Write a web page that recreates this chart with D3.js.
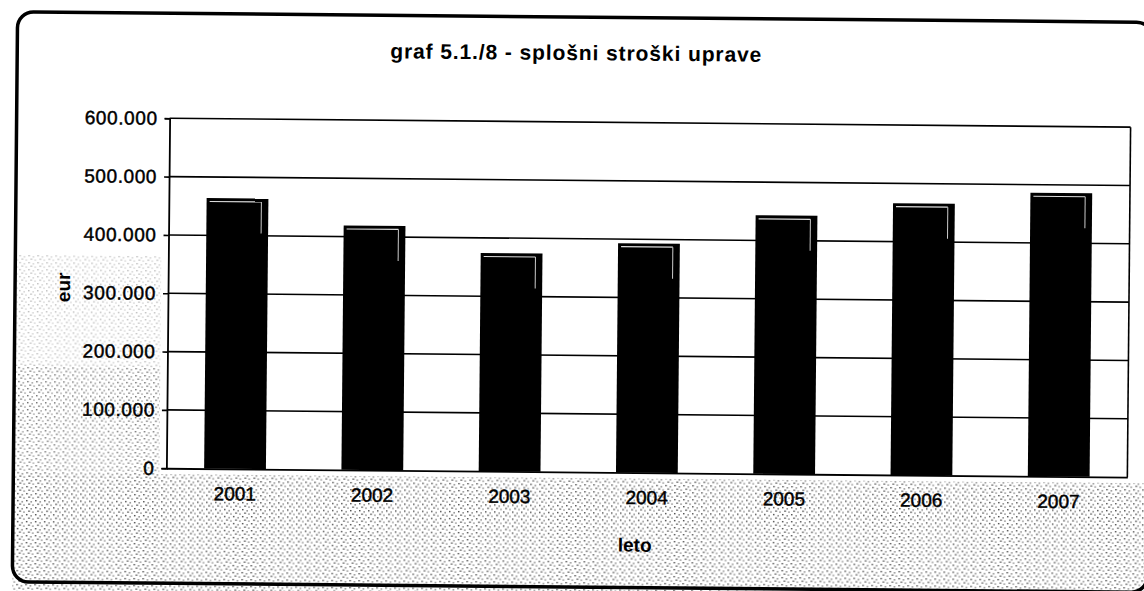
<!DOCTYPE html>
<html>
<head>
<meta charset="utf-8">
<script src="https://cdn.jsdelivr.net/npm/d3@7"></script>
<style>
  html, body { margin: 0; padding: 0; background: #fff; }
  svg { display: block; }
  text { font-family: "Liberation Sans", Arial, sans-serif; fill: #000; }
</style>
</head>
<body>
<svg id="chart" width="1144" height="591"></svg>
<script>
// ---- data ----
const categories = ["2001", "2002", "2003", "2004", "2005", "2006", "2007"];
const values = [464000, 419000, 374000, 393000, 443000, 466000, 486000];
const yTicks = [0, 100000, 200000, 300000, 400000, 500000, 600000];
const yTickLabels = ["0", "100.000", "200.000", "300.000", "400.000", "500.000", "600.000"];
const titleText = "graf 5.1./8 - splošni stroški uprave";
const xTitle = "leto";
const yTitle = "eur";

// ---- layout ----
const W = 1144, H = 591;
const plot = { left: 168, right: 1129, top: 122, bottom: 472 };

const svg = d3.select("#chart");

// speckle texture to mimic the scan
const defs = svg.append("defs");
const pat = defs.append("pattern")
  .attr("id", "speckle").attr("width", 9).attr("height", 7)
  .attr("patternUnits", "userSpaceOnUse");
pat.append("rect").attr("width", 9).attr("height", 7).attr("fill", "#fff");
pat.append("rect").attr("x", 1).attr("y", 1).attr("width", 1.5).attr("height", 1.4).attr("fill", "#222");
pat.append("rect").attr("x", 5.5).attr("y", 2.2).attr("width", 1.3).attr("height", 1.3).attr("fill", "#333");
pat.append("rect").attr("x", 3).attr("y", 4.6).attr("width", 2.2).attr("height", 1.1).attr("fill", "#333");
pat.append("rect").attr("x", 7.4).attr("y", 5.5).attr("width", 1.2).attr("height", 1.2).attr("fill", "#222");

const g = svg.append("g").attr("transform", `rotate(0.53, ${W/2}, ${H/2})`);

// textured areas
g.append("rect").attr("x", 15).attr("y", plot.bottom + 6).attr("width", W).attr("height", H)
  .attr("fill", "url(#speckle)").attr("opacity", 0.8);
g.append("rect").attr("x", 15).attr("y", 370).attr("width", plot.left - 22).attr("height", plot.bottom - 370 + 6)
  .attr("fill", "url(#speckle)").attr("opacity", 0.65);
g.append("rect").attr("x", 15).attr("y", 260).attr("width", plot.left - 22).attr("height", 110)
  .attr("fill", "url(#speckle)").attr("opacity", 0.3);

// outer border
g.append("rect").attr("x", 15).attr("y", 17).attr("width", 1135).attr("height", 570)
  .attr("rx", 16).attr("fill", "none").attr("stroke", "#000").attr("stroke-width", 3.5);

const x = d3.scaleBand().domain(categories).range([plot.left, plot.right]).paddingInner(0.55).paddingOuter(0.275);
const y = d3.scaleLinear().domain([0, 600000]).range([plot.bottom, plot.top]);

// plot background
g.append("rect").attr("x", plot.left).attr("y", plot.top)
  .attr("width", plot.right - plot.left).attr("height", plot.bottom - plot.top)
  .attr("fill", "#fff");

// gridlines
g.append("g").selectAll("line").data(yTicks.slice(1)).join("line")
  .attr("x1", plot.left).attr("x2", plot.right)
  .attr("y1", d => y(d)).attr("y2", d => y(d))
  .attr("stroke", "#000").attr("stroke-width", 1.6);

// right border
g.append("line").attr("x1", plot.right).attr("x2", plot.right)
  .attr("y1", plot.top).attr("y2", plot.bottom)
  .attr("stroke", "#000").attr("stroke-width", 1.6);

// bars
const bars = g.append("g");
bars.selectAll("rect.bar").data(categories).join("rect")
  .attr("class", "bar")
  .attr("x", d => x(d)).attr("width", x.bandwidth())
  .attr("y", (d, i) => y(values[i])).attr("height", (d, i) => plot.bottom - y(values[i]))
  .attr("fill", "#000");
// 3D highlight lines
bars.selectAll("line.hl").data(categories).join("line")
  .attr("class", "hl")
  .attr("x1", d => x(d) + 3).attr("x2", d => x(d) + x.bandwidth() - 7)
  .attr("y1", (d, i) => y(values[i]) + 3.5).attr("y2", (d, i) => y(values[i]) + 3.5)
  .attr("stroke", "#ddd").attr("stroke-width", 1.2);
bars.selectAll("line.hv").data(categories).join("line")
  .attr("class", "hv")
  .attr("x1", d => x(d) + x.bandwidth() - 7).attr("x2", d => x(d) + x.bandwidth() - 7)
  .attr("y1", (d, i) => y(values[i]) + 3.5).attr("y2", (d, i) => y(values[i]) + 35)
  .attr("stroke", "#ccc").attr("stroke-width", 1);

const txtFont = '"Liberation Sans", Arial, sans-serif';

// y axis
const yAxis = d3.axisLeft(y).tickValues(yTicks).tickFormat((d, i) => yTickLabels[i])
  .tickSize(5).tickPadding(7);
const ya = g.append("g").attr("transform", `translate(${plot.left},0)`).call(yAxis);
ya.select(".domain").attr("stroke", "#000").attr("stroke-width", 1.8);
ya.selectAll(".tick line").attr("stroke", "#000").attr("stroke-width", 1.6);
ya.selectAll(".tick text").style("font-size", "19px").attr("fill", "#000")
  .style("letter-spacing", "0.6px").attr("stroke", "#000").attr("stroke-width", 0.45)
  .style("font-family", txtFont);

// x axis
const xAxis = d3.axisBottom(x).tickSize(0).tickPadding(18);
const xa = g.append("g").attr("transform", `translate(0,${plot.bottom})`).call(xAxis);
xa.select(".domain").attr("stroke", "#000").attr("stroke-width", 1.8);
xa.selectAll(".tick text").style("font-size", "19px").attr("fill", "#000")
  .attr("stroke", "#000").attr("stroke-width", 0.45)
  .style("font-family", txtFont);

// titles
g.append("text").attr("x", 574).attr("y", 60).attr("text-anchor", "middle")
  .style("font-size", "21px").style("font-weight", "bold").style("letter-spacing", "0.9px").text(titleText);
g.append("text").attr("x", 637).attr("y", 551).attr("text-anchor", "middle")
  .style("font-size", "19px").style("font-weight", "bold").text(xTitle);
g.append("text").attr("transform", "translate(70,292) rotate(-90)").attr("text-anchor", "middle")
  .style("font-size", "19px").style("font-weight", "bold").text(yTitle);
</script>
</body>
</html>
